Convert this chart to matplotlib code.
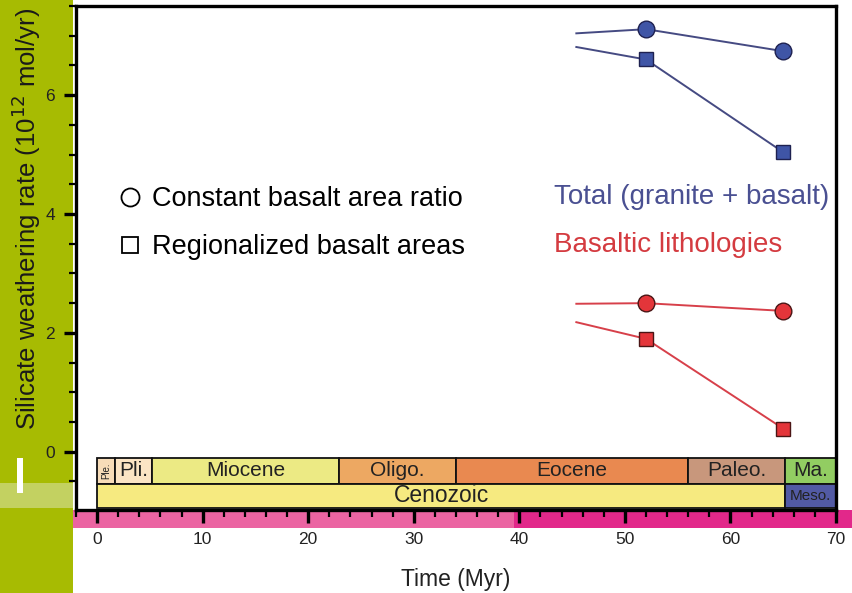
import matplotlib
matplotlib.use("Agg")
import matplotlib.pyplot as plt
from matplotlib.patches import Rectangle
from matplotlib.lines import Line2D
from matplotlib.ticker import MultipleLocator

plt.rcParams['font.family'] = ['Liberation Sans', 'DejaVu Sans']

# ---- data ----
time_myr = [45.4, 52, 65]
total_const = [7.04, 7.11, 6.74]
total_region = [6.81, 6.60, 5.04]
basalt_const = [2.49, 2.50, 2.37]
basalt_region = [2.18, 1.90, 0.39]

epoch_names = ["Ple.", "Pli.", "Miocene", "Oligo.", "Eocene", "Paleo.", "Ma."]
epoch_bounds = [0, 1.7, 5.2, 22.9, 34.0, 56.0, 65.2, 70]
epoch_colors = ["#f7dcb8", "#fbe4c4", "#ecea84", "#eda862", "#e98950", "#c8977c", "#92cd62"]
era_names = ["Cenozoic", "Meso."]
era_bounds = [0, 65.2, 70]
era_colors = ["#f6ea80", "#525aa4"]

fig = plt.figure(figsize=(8.52, 5.93), dpi=100)
W, H = 852, 593

def frect(x0, y0, x1, y1, color, z=-10):
    fig.patches.append(Rectangle((x0 / W, 1 - y1 / H), (x1 - x0) / W, (y1 - y0) / H,
                                 transform=fig.transFigure, facecolor=color,
                                 edgecolor='none', zorder=z))

# decorative slide background
frect(0, 0, 73, H, "#a7bb02")
frect(0, 483, 73, 508, "#c3d161", z=-9)
frect(17, 458, 23, 493, "#ffffff", z=-8)
frect(73, 510, 514, 528, "#eb64a2")
frect(514, 510, W, 528, "#e2288a")

ax = fig.add_axes([76 / W, 1 - 510 / H, 760 / W, 504 / H])
ax.set_xlim(-2, 70)
ax.set_ylim(-0.98, 7.5)

blue_line = "#454a82"
blue_fill = "#3f55a6"
red_line = "#d7404a"
red_fill = "#e3353a"

ax.plot(time_myr, total_const, color=blue_line, lw=1.4, marker='o', markevery=[1, 2],
        ms=12, mfc=blue_fill, mec="#1e2150", mew=1.0, zorder=3)
ax.plot(time_myr, total_region, color=blue_line, lw=1.4, marker='s', markevery=[1, 2],
        ms=10, mfc=blue_fill, mec="#1e2150", mew=1.0, zorder=3)
ax.plot(time_myr, basalt_const, color=red_line, lw=1.4, marker='o', markevery=[1, 2],
        ms=12, mfc=red_fill, mec="#4a1515", mew=1.0, zorder=3)
ax.plot(time_myr, basalt_region, color=red_line, lw=1.4, marker='s', markevery=[1, 2],
        ms=10, mfc=red_fill, mec="#4a1515", mew=1.0, zorder=3)

# geological timescale
row1 = (-0.54, -0.10)
row2 = (-0.94, -0.54)
for name, a, b, c in zip(epoch_names, epoch_bounds[:-1], epoch_bounds[1:], epoch_colors):
    ax.add_patch(Rectangle((a, row1[0]), b - a, row1[1] - row1[0], facecolor=c,
                           edgecolor='#111111', lw=1.3, zorder=2))
    if name == "Ple.":
        ax.text((a + b) / 2, sum(row1) / 2, name, rotation=90, ha='center', va='center',
                fontsize=7, color='#222222', zorder=4)
    else:
        ax.text((a + b) / 2, sum(row1) / 2, name, ha='center', va='center',
                fontsize=15, color='#222222', zorder=4)
for name, a, b, c in zip(era_names, era_bounds[:-1], era_bounds[1:], era_colors):
    ax.add_patch(Rectangle((a, row2[0]), b - a, row2[1] - row2[0], facecolor=c,
                           edgecolor='#111111', lw=1.3, zorder=2))
    fs = 11 if name == "Meso." else 16.5
    ax.text((a + b) / 2, sum(row2) / 2, name, ha='center', va='center',
            fontsize=fs, color='#222222', zorder=4)

# legend
handles = [Line2D([], [], ls='none', marker='o', ms=13, mfc='none', mec='black', mew=1.3),
           Line2D([], [], ls='none', marker='s', ms=11, mfc='none', mec='black', mew=1.3)]
ax.legend(handles, ["Constant basalt area ratio", "Regionalized basalt areas"],
          loc='center left', bbox_to_anchor=(0.04, 0.569), frameon=False,
          fontsize=19.5, handlelength=0.75, handletextpad=0.45, labelspacing=0.82,
          borderpad=0)

ax.text(43.3, 4.29, "Total (granite + basalt)", color="#4a5092", fontsize=20,
        ha='left', va='center')
ax.text(43.3, 3.48, "Basaltic lithologies", color="#d43b40", fontsize=20,
        ha='left', va='center')

# axes styling
for s in ax.spines.values():
    s.set_linewidth(2.4)
    s.set_color('black')
ax.xaxis.set_major_locator(MultipleLocator(10))
ax.xaxis.set_minor_locator(MultipleLocator(2))
ax.yaxis.set_major_locator(MultipleLocator(2))
ax.yaxis.set_minor_locator(MultipleLocator(0.5))
ax.tick_params(which='major', length=9, width=2.4, labelsize=12.5, colors='black',
               labelcolor='#222222', pad=6)
ax.tick_params(which='minor', length=5, width=1.6, colors='black')
ax.tick_params(axis='x', which='major', pad=7)

ax.set_xlabel("Time (Myr)", fontsize=16.5, color='#222222', labelpad=15)
fig.text(26 / W, 1 - 219 / H, "Silicate weathering rate (10$^{12}$ mol/yr)",
         rotation=90, ha='center', va='center', fontsize=18.5, color='#1a1a1a')

fig.savefig("out.png", dpi=100)
